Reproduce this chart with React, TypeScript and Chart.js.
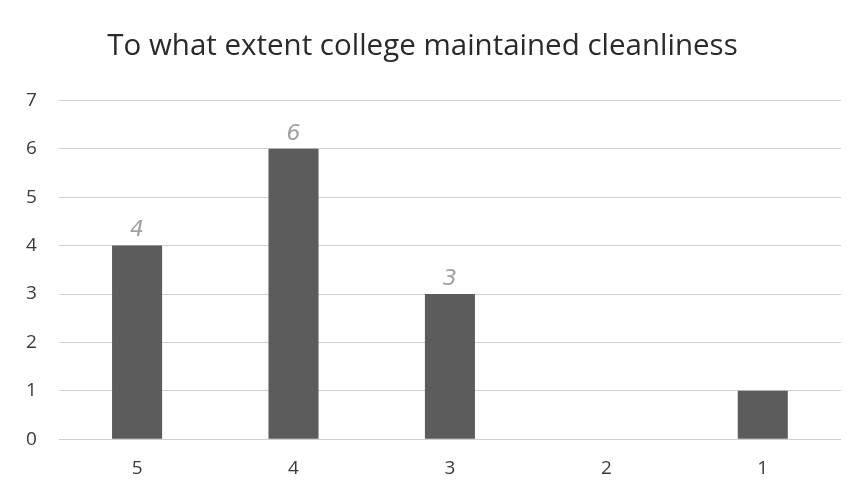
import React, { useEffect, useRef } from "react";
import { Chart, registerables } from "chart.js";

Chart.register(...registerables);

const categories = ["5", "4", "3", "2", "1"];
const counts = [4, 6, 3, 0, 1];
const handNotes = ["4", "6", "3", "", ""];
const yTicks = [0, 1, 2, 3, 4, 5, 6, 7];
const titleText = "To what extent college maintained cleanliness";

const notesPlugin = {
  id: "handNotes",
  afterDatasetsDraw(chart: any) {
    const ctx = chart.ctx;
    const meta = chart.getDatasetMeta(0);
    ctx.save();
    ctx.fillStyle = "#a0a0a0";
    ctx.font = "italic 22px 'DejaVu Sans'";
    ctx.textAlign = "center";
    ctx.textBaseline = "bottom";
    meta.data.forEach((bar: any, i: number) => {
      if (handNotes[i]) ctx.fillText(handNotes[i], bar.x, bar.y - 4);
    });
    ctx.restore();
  },
};

export default function App() {
  const ref = useRef<HTMLCanvasElement | null>(null);
  useEffect(() => {
    if (!ref.current) return;
    const chart = new Chart(ref.current, {
      type: "bar",
      data: {
        labels: categories,
        datasets: [
          {
            data: counts,
            backgroundColor: "#5c5c5c",
            borderWidth: 0,
            categoryPercentage: 1,
            barPercentage: 0.32,
          },
        ],
      },
      options: {
        animation: false,
        responsive: false,
        maintainAspectRatio: false,
        layout: { padding: { left: 4, right: 18, top: 29, bottom: 6 } },
        plugins: {
          legend: { display: false },
          tooltip: { enabled: false },
          title: {
            display: true,
            text: titleText,
            color: "#2a2a2a",
            font: { family: "'Open Sans'", size: 29.5, weight: "normal" },
            padding: { top: 0, bottom: 36 },
          },
        },
        scales: {
          x: {
            grid: { display: false },
            border: { display: false },
            ticks: { color: "#3a3a3a", font: { family: "'Open Sans'", size: 19 }, padding: 10 },
          },
          y: {
            min: 0,
            max: 7,
            afterBuildTicks(axis: any) {
              axis.ticks = yTicks.map((v) => ({ value: v }));
            },
            grid: { color: "#cfcfcf", lineWidth: 1, drawTicks: false },
            border: { display: false },
            ticks: { color: "#3a3a3a", font: { family: "'Open Sans'", size: 19 }, padding: 22 },
          },
        },
      },
      plugins: [notesPlugin],
    });
    return () => chart.destroy();
  }, []);
  return (
    <div style={{ position: "fixed", left: 0, top: 0, width: 859, height: 496, background: "#fff" }}>
      <canvas ref={ref} width={859} height={496} style={{ display: "block" }} />
    </div>
  );
}
